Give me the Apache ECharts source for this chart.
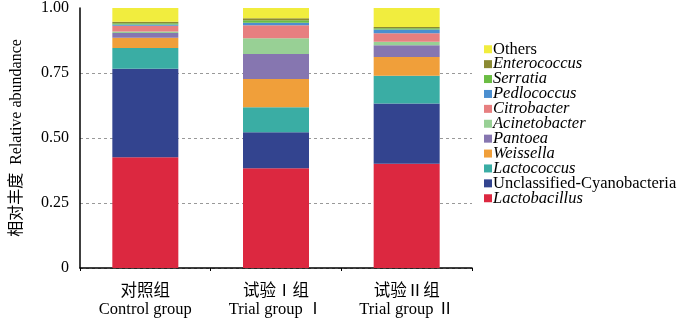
<!DOCTYPE html>
<html>
<head>
<meta charset="utf-8">
<script src="https://cdn.jsdelivr.net/npm/echarts@6/dist/echarts.min.js"></script>
<style>
  html, body { margin: 0; padding: 0; background: #fff; }
  #chart { width: 700px; height: 326px; }
</style>
</head>
<body>
<div id="chart"></div>
<script>
// groups on the x axis
var groups = ['对照组\nControl group', '试验Ⅰ组\nTrial group Ⅰ', '试验Ⅱ组\nTrial group Ⅱ'];

// relative abundance per taxon, stacked bottom to top
var lactobacillus = [0.426, 0.384, 0.401];
var cyanobacteria = [0.340, 0.138, 0.232];
var lactococcus   = [0.080, 0.096, 0.106];
var weissella     = [0.040, 0.109, 0.073];
var pantoea       = [0.018, 0.096, 0.045];
var acinetobacter = [0.006, 0.061, 0.013];
var citrobacter   = [0.022, 0.050, 0.033];
var pedlococcus   = [0.005, 0.009, 0.014];
var serratia      = [0.004, 0.010, 0.005];
var enterococcus  = [0.006, 0.008, 0.005];
var others        = [0.053, 0.039, 0.073];

var yTicks = ['0', '0.25', '0.50', '0.75', '1.00'];

var taxa = [
  { name: 'Lactobacillus', data: lactobacillus, color: '#dc2840', italic: true },
  { name: 'Unclassified-Cyanobacteria', data: cyanobacteria, color: '#33448f', italic: false },
  { name: 'Lactococcus', data: lactococcus, color: '#3aada4', italic: true },
  { name: 'Weissella', data: weissella, color: '#f09f3a', italic: true },
  { name: 'Pantoea', data: pantoea, color: '#8676b0', italic: true },
  { name: 'Acinetobacter', data: acinetobacter, color: '#98d095', italic: true },
  { name: 'Citrobacter', data: citrobacter, color: '#e77f80', italic: true },
  { name: 'Pedlococcus', data: pedlococcus, color: '#4b8fd0', italic: true },
  { name: 'Serratia', data: serratia, color: '#6bbd44', italic: true },
  { name: 'Enterococcus', data: enterococcus, color: '#8b8a33', italic: true },
  { name: 'Others', data: others, color: '#f1ed3e', italic: false }
];

var serif = "'Liberation Serif', 'Noto Sans CJK SC', serif";

var chart = echarts.init(document.getElementById('chart'));
chart.setOption({
  animation: false,
  textStyle: { fontFamily: serif, color: '#000' },
  grid: { left: 80, right: 228, top: 7, bottom: 58 },
  legend: {
    orient: 'vertical',
    left: 479,
    top: 36,
    icon: 'rect',
    itemWidth: 8,
    itemHeight: 8,
    itemGap: -1.6,
    textStyle: { fontFamily: serif, fontSize: 16.5, color: '#000', padding: [0, 0, 0, -4] },
    data: taxa.slice().reverse().map(function (t) {
      return { name: t.name, textStyle: { fontStyle: t.italic ? 'italic' : 'normal' } };
    })
  },
  xAxis: {
    type: 'category',
    data: groups,
    axisLine: { lineStyle: { color: '#000', width: 1.5 } },
    axisTick: { show: true, length: 3, lineStyle: { color: '#000' } },
    axisLabel: { fontFamily: serif, fontSize: 16.5, color: '#000', lineHeight: 18, margin: 15 }
  },
  yAxis: {
    type: 'value',
    min: 0,
    max: 1,
    interval: 0.25,
    name: '相对丰度  Relative abundance',
    nameLocation: 'middle',
    nameGap: 55,
    nameTextStyle: { fontFamily: serif, fontSize: 16, color: '#000' },
    axisLine: { show: true, lineStyle: { color: '#000', width: 1.5 } },
    axisTick: { show: false },
    axisLabel: {
      fontFamily: serif, fontSize: 16, color: '#000', margin: 11,
      formatter: function (v) { return yTicks[Math.round(v / 0.25)]; }
    },
    splitLine: {
      show: true,
      lineStyle: { type: [3, 3], color: ['#999', '#999', '#999', '#999', 'rgba(0,0,0,0)'], width: 1 }
    }
  },
  series: taxa.map(function (t) {
    return {
      name: t.name,
      type: 'bar',
      stack: 'total',
      barWidth: 66,
      data: t.data,
      itemStyle: { color: t.color }
    };
  })
});
</script>
</body>
</html>
